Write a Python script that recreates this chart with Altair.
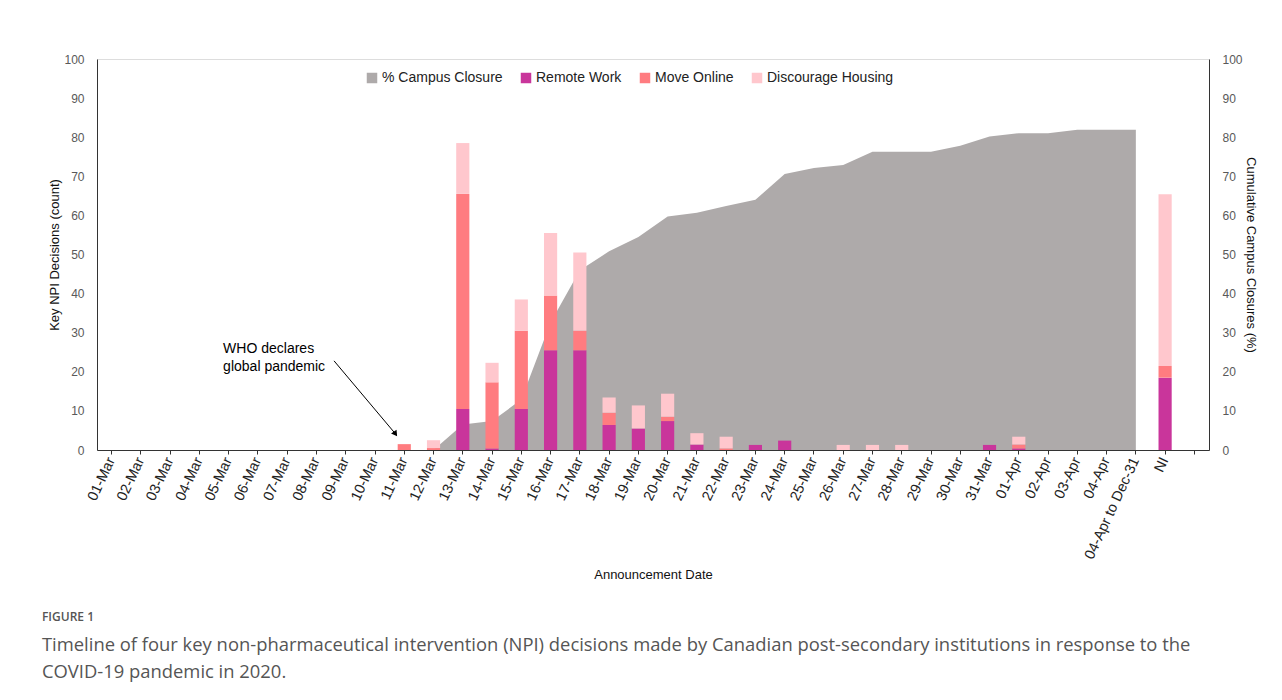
import altair as alt
import pandas as pd

# ---------------- data ----------------
dates = [f"{d:02d}-Mar" for d in range(1, 32)] + ["01-Apr", "02-Apr", "03-Apr", "04-Apr",
                                                 "04-Apr to Dec-31", "NI", " "]

series_names = ["% Campus Closure", "Remote Work", "Move Online", "Discourage Housing"]
series_colors = ["#AEAAAA", "#C9359B", "#FF7C80", "#FFC7CD"]

# index:        01 02 03 04 05 06 07 08 09 10 11   12   13    14    15    16    17    18   19   20   21   22   23   24   25 26   27   28   29 30 31   01A  02A 03A 04A 04A-D NI    blank
remote_work =  [0, 0, 0, 0, 0, 0, 0, 0, 0, 0, 0,   0,   10.5, 0.4,  10.5, 25.5, 25.5, 6.4, 5.5, 7.4, 1.4, 0,   1.3, 2.4, 0, 0,   0,   0,   0, 0, 1.3, 0.4, 0,  0,  0,  0,    18.5, 0]
move_online =  [0, 0, 0, 0, 0, 0, 0, 0, 0, 0, 1.5, 0.5, 55.0, 16.9, 20.0, 14.0, 5.0,  3.1, 0,   1.1, 0,   0.4, 0,   0,   0, 0,   0,   0,   0, 0, 0,   1.0, 0,  0,  0,  0,    3.0,  0]
discourage =   [0, 0, 0, 0, 0, 0, 0, 0, 0, 0, 0,   2.0, 13.0, 5.0,  8.0,  16.0, 20.0, 3.9, 5.9, 5.9, 2.9, 3.0, 0,   0,   0, 1.3, 1.3, 1.3, 0, 0, 0,   2.0, 0,  0,  0,  0,    43.9, 0]

campus_closure = [None] * 11 + [0, 6.5, 7.4, 12.9, 32.6, 46.0, 50.8, 54.5, 59.7, 60.7, 62.4, 64.0,
                                70.6, 72.1, 72.9, 76.3, 76.3, 76.3, 77.8, 80.2, 81.0, 81.0, 81.9,
                                81.9, 81.9] + [None, None]

annotation_lines = ["WHO declares", "global pandemic"]

# ---------------- tables ----------------
rows = []
for i, d in enumerate(dates):
    for k, (name, vals) in enumerate([("Remote Work", remote_work),
                                      ("Move Online", move_online),
                                      ("Discourage Housing", discourage)]):
        if vals[i] > 0:
            rows.append({"date": d, "series": name, "value": vals[i], "order": k})
bar_df = pd.DataFrame(rows)

area_df = pd.DataFrame([{"date": d, "pct": v, "series": "% Campus Closure"}
                        for d, v in zip(dates, campus_closure) if v is not None])

n = len(dates)
text_df = pd.DataFrame({"label": annotation_lines, "ax": [4.31, 4.31], "ay": [25.8, 21.2]})
arrow_df = pd.DataFrame({"ax": [8.10], "ay": [22.8], "ax2": [10.18], "ay2": [4.3]})
head_df = pd.DataFrame({"ax": [10.18], "ay": [4.3]})

W, H = 1112, 391
FONT = "Liberation Sans"

x_band = alt.Scale(domain=dates, paddingInner=0.55, paddingOuter=0.275)
y_lin = alt.Scale(domain=[0, 100], nice=False)
ax_lin = alt.Scale(domain=[0, n], nice=False, zero=False)

color = alt.Color(
    "series:N",
    scale=alt.Scale(domain=series_names, range=series_colors),
    legend=alt.Legend(orient="none", legendX=268, legendY=12, direction="horizontal",
                      title=None, symbolType="square", symbolSize=110, symbolStrokeWidth=0,
                      labelFontSize=14, labelFont=FONT, labelColor="#222",
                      columnPadding=16, labelOffset=3),
)

area = alt.Chart(area_df).mark_area(opacity=1).encode(
    x=alt.X("date:N", sort=dates, scale=x_band, axis=None),
    y=alt.Y("pct:Q", scale=y_lin,
            axis=alt.Axis(orient="right", title="Cumulative Campus Closures (%)",
                          values=list(range(0, 101, 10)), ticks=False, grid=False,
                          labelColor="#595959", labelFontSize=12, labelPadding=13,
                          titleFontSize=13, titleFont=FONT, titleFontWeight="normal",
                          titleColor="#111", titlePadding=1, domainColor="#333")),
    color=color,
)

bars = alt.Chart(bar_df).mark_bar().encode(
    x=alt.X("date:N", sort=dates, scale=x_band,
            axis=alt.Axis(title="Announcement Date", labelAngle=-65, labelAlign="right",
                          labelBaseline="middle", labelFontSize=14.5, labelFont=FONT,
                          labelColor="#222", labelPadding=4, tickSize=4, tickColor="#333",
                          domainColor="#333", titleFontSize=13, titleFont=FONT,
                          titleFontWeight="normal", titleColor="#111", titlePadding=8,
                          grid=False)),
    y=alt.Y("value:Q", stack="zero", scale=y_lin,
            axis=alt.Axis(orient="left", title="Key NPI Decisions (count)",
                          values=list(range(0, 101, 10)), ticks=False, grid=False,
                          labelColor="#595959", labelFontSize=12, labelPadding=13,
                          titleFontSize=13, titleFont=FONT, titleFontWeight="normal",
                          titleColor="#111", titlePadding=2, domainColor="#333")),
    color=color,
    order=alt.Order("order:Q"),
)

text = alt.Chart(text_df).mark_text(align="left", baseline="middle", fontSize=14,
                                    font=FONT, color="#000").encode(
    x=alt.X("ax:Q", scale=ax_lin, axis=None),
    y=alt.Y("ay:Q", scale=y_lin, axis=None),
    text="label:N",
)

arrow = alt.Chart(arrow_df).mark_rule(color="#000", strokeWidth=1).encode(
    x=alt.X("ax:Q", scale=ax_lin, axis=None),
    y=alt.Y("ay:Q", scale=y_lin, axis=None),
    x2="ax2:Q", y2="ay2:Q",
)

head = alt.Chart(head_df).mark_point(shape="triangle", filled=True, size=45, angle=145,
                                     color="#000", opacity=1).encode(
    x=alt.X("ax:Q", scale=ax_lin, axis=None),
    y=alt.Y("ay:Q", scale=y_lin, axis=None),
)

caption = ["Timeline of four key non-pharmaceutical intervention (NPI) decisions made by Canadian "
           "post-secondary institutions in response to the",
           "COVID-19 pandemic in 2020."]

chart = alt.layer(area, bars, text, arrow, head).resolve_scale(
    x="independent", y="independent"
).properties(
    width=W, height=H,
    padding={"left": 33, "top": 45, "right": 5, "bottom": 5},
    title=alt.TitleParams(text="FIGURE 1", subtitle=caption, orient="bottom", anchor="start",
                          frame="bounds", dx=-7, offset=30, font="Open Sans", fontSize=12,
                          fontWeight=600, color="#555", subtitleFont="Open Sans",
                          subtitleFontSize=18.4, subtitleColor="#555", subtitleLineHeight=27,
                          subtitlePadding=12),
).configure_view(stroke="#666", strokeWidth=1).configure(background="white")

chart.save("out.html", embed_options={"renderer": "svg", "actions": False})
